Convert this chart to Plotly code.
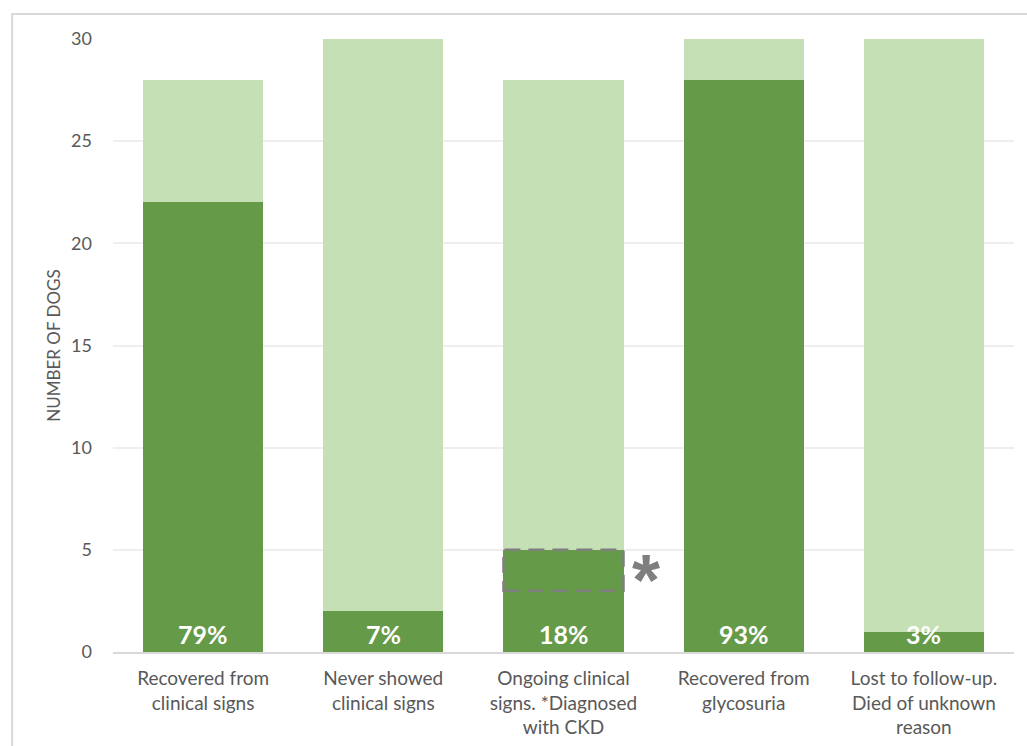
import plotly.graph_objects as go

categories = ["Recovered from<br>clinical signs", "Never showed<br>clinical signs",
              "Ongoing clinical<br>signs. *Diagnosed<br>with CKD", "Recovered from<br>glycosuria",
              "Lost to follow-up.<br>Died of unknown<br>reason"]
affected = [22, 2, 5, 28, 1]
totals = [28, 30, 28, 30, 30]
remainder = [t - a for t, a in zip(totals, affected)]
pct_labels = ["79%", "7%", "18%", "93%", "3%"]
ckd_range = [3, 5]
x_idx = list(range(len(categories)))

fig = go.Figure()
fig.add_bar(x=x_idx, y=affected, marker=dict(color="#659A48", line_width=0), width=0.667, hoverinfo="skip")
fig.add_bar(x=x_idx, y=remainder, marker=dict(color="#C5E0B4", line_width=0), width=0.667, hoverinfo="skip")

for i, lab in enumerate(pct_labels):
    fig.add_annotation(x=i, y=0, text="<b>" + lab + "</b>", showarrow=False, yanchor="bottom",
                       yshift=1, font=dict(family="Lato, Open Sans, sans-serif", size=25, color="white"))

fig.add_shape(type="rect", x0=2 - 0.333, x1=2 + 0.333, y0=ckd_range[0], y1=ckd_range[1],
              xref="x", yref="y", line=dict(color="#7F7F7F", width=2.5, dash="16px,8px"))
fig.add_annotation(x=2 + 0.333, y=(ckd_range[0] + ckd_range[1]) / 2, text="<b>*</b>", showarrow=False,
                   xanchor="left", xshift=6, yshift=-10,
                   font=dict(family="Liberation Sans, sans-serif", size=72, color="#7F7F7F"))

# outer chart frame
fig.add_shape(type="rect", xref="paper", yref="paper", x0=-0.112, x1=1.2, y0=-0.5, y1=1.0408,
              line=dict(color="#D9D9D9", width=2), layer="below")

fig.update_layout(
    barmode="stack", width=1027, height=746, showlegend=False,
    margin=dict(l=113, r=13, t=39, b=94),
    plot_bgcolor="white", paper_bgcolor="white",
    font=dict(family="Lato, Open Sans, sans-serif", color="#595959"),
    xaxis=dict(tickmode="array", tickvals=x_idx, ticktext=categories, range=[-0.5, 4.5],
               showline=True, linecolor="#D9D9D9", linewidth=2, ticks="", ticklabelstandoff=8,
               automargin=False, tickfont=dict(size=19, color="#595959")),
    yaxis=dict(range=[0, 30], dtick=5, showgrid=True, gridcolor="#EEEEEE", gridwidth=1.5,
               zeroline=False, ticks="", ticklabelstandoff=20, automargin=False,
               tickfont=dict(size=18, color="#595959"),
               title=dict(text="NUMBER OF DOGS", font=dict(size=17, color="#595959"), standoff=6)),
)

fig.write_html("out.html")
